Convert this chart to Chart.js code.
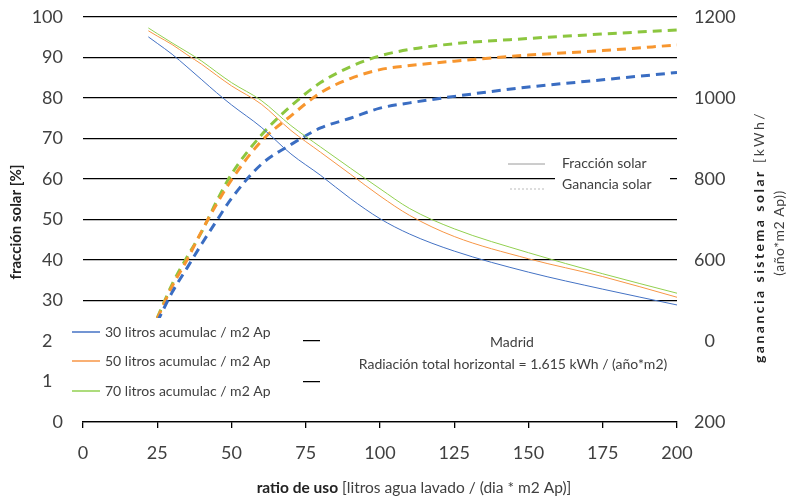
<!DOCTYPE html>
<html>
<head>
<meta charset="utf-8">
<script src="https://cdn.jsdelivr.net/npm/chart.js@4"></script>
<style>
    html, body { margin: 0; padding: 0; background: #fff; }
</style>
</head>
<body>
<canvas id="solar-chart" width="796" height="497"></canvas>
<script>
'use strict';

// data

const ratio = [22, 25, 30, 35, 40, 45, 50, 60, 70, 80, 90, 100, 110, 125, 150, 175, 200];

const fraccion30 = [95.1, 93.5, 90.8, 87.7, 84.5, 81.3, 78.3, 72.8, 66.2, 60.9, 55.2, 50.2, 46.4, 42.2, 37.0, 32.8, 28.9];
const fraccion50 = [96.6, 95.3, 93.2, 90.7, 88.3, 85.6, 83.0, 78.5, 72.0, 66.6, 61.2, 55.8, 51.0, 45.8, 40.3, 35.9, 30.8];
const fraccion70 = [97.3, 95.9, 93.6, 91.4, 89.1, 86.4, 83.8, 79.4, 73.2, 67.9, 62.7, 57.6, 52.7, 47.7, 41.8, 36.6, 31.8];

const ganancia30 = [null, 447, 520, 580, 640, 697, 752, 836, 885, 926, 950, 975, 988, 1004, 1027, 1045, 1063];
const ganancia50 = [null, 455, 535, 600, 672, 738, 798, 893, 956, 1013, 1048, 1070, 1080, 1091, 1106, 1117, 1131];
const ganancia70 = [null, 457, 540, 607, 670, 745, 812, 908, 980, 1038, 1077, 1104, 1120, 1134, 1147, 1158, 1168];

const seriesNames = ['30 litros acumulac / m2 Ap', '50 litros acumulac / m2 Ap', '70 litros acumulac / m2 Ap'];
const leftTickText = { 20: '2\u2007', 10: '1\u2007' };
const rightTickText = { 400: '\u20070' };

const BLUE = '#4472C4';
const ORANGE = '#F79646';
const GREEN = '#92D050';
const TEXT = '#404040';
const FONT = 'Lato, "Noto Sans", sans-serif';

// turn the arrays into {x, y} points, skipping gaps

function toPoints(values) {
    return ratio
        .map((x, i) => ({ x: x, y: values[i] }))
        .filter(p => p.y !== null);
}

function solidSet(label, values, color) {
    return {
        label: label,
        data: toPoints(values),
        yAxisID: 'yL',
        borderColor: color,
        borderWidth: 1,
        pointRadius: 0,
        cubicInterpolationMode: 'monotone'
    };
}

function dashedSet(label, values, color) {
    return {
        label: label,
        data: toPoints(values),
        yAxisID: 'yR',
        borderColor: color,
        borderWidth: 3,
        borderDash: [9, 6],
        pointRadius: 0,
        cubicInterpolationMode: 'monotone'
    };
}

// white boxes, legends and notes drawn over the plot

const overlayPlugin = {
    id: 'overlays',
    afterDatasetsDraw(chart) {
        const ctx = chart.ctx;
        ctx.save();

        ctx.fillStyle = '#fff';
        ctx.fillRect(70, 318, 233, 84);
        ctx.fillRect(320, 325, 372, 76);
        ctx.fillRect(555, 150, 115, 42);

        // series legend
        const colors = [BLUE, ORANGE, GREEN];
        const rows = [332, 361, 391];
        ctx.font = '14px ' + FONT;
        ctx.textBaseline = 'middle';
        ctx.textAlign = 'left';
        rows.forEach((y, i) => {
            ctx.strokeStyle = colors[i];
            ctx.lineWidth = 1.5;
            ctx.beginPath();
            ctx.moveTo(72, y);
            ctx.lineTo(100, y);
            ctx.stroke();
            ctx.fillStyle = TEXT;
            ctx.fillText(seriesNames[i], 105, y);
        });

        // line style legend
        ctx.strokeStyle = '#9a9a9a';
        ctx.lineWidth = 1;
        ctx.beginPath();
        ctx.moveTo(508, 164);
        ctx.lineTo(545, 164);
        ctx.stroke();
        ctx.setLineDash([2, 2]);
        ctx.strokeStyle = '#bbbbbb';
        ctx.beginPath();
        ctx.moveTo(510, 189);
        ctx.lineTo(545, 189);
        ctx.stroke();
        ctx.setLineDash([]);
        ctx.fillStyle = TEXT;
        ctx.fillText('Fracción solar', 562, 163);
        ctx.fillText('Ganancia solar', 562, 184);

        // location note
        ctx.textAlign = 'center';
        ctx.fillText('Madrid', 512, 342);
        ctx.fillText('Radiación total horizontal = 1.615 kWh / (año*m2)', 513, 364);

        ctx.restore();
    },
    afterDraw(chart) {
        const ctx = chart.ctx;
        ctx.save();
        ctx.fillStyle = TEXT;
        ctx.textBaseline = 'middle';

        // left title
        ctx.save();
        ctx.translate(16, 222);
        ctx.rotate(-Math.PI / 2);
        ctx.textAlign = 'center';
        ctx.fillStyle = '#222';
        ctx.font = 'bold 15px ' + FONT;
        ctx.fillText('fracción solar [%]', 0, 0);
        ctx.restore();

        // bottom title, bold part + regular part
        ctx.font = 'bold 15.5px ' + FONT;
        const boldPart = 'ratio de uso';
        const regPart = ' [litros agua lavado / (dia * m2 Ap)]';
        const wBold = ctx.measureText(boldPart).width;
        ctx.font = '15.5px ' + FONT;
        const wReg = ctx.measureText(regPart).width;
        let x0 = 414 - (wBold + wReg) / 2;
        ctx.textAlign = 'left';
        ctx.font = 'bold 15.5px ' + FONT;
        ctx.fillStyle = '#222';
        ctx.fillText(boldPart, x0, 488);
        ctx.font = '15.5px ' + FONT;
        ctx.fillStyle = TEXT;
        ctx.fillText(regPart, x0 + wBold, 488);

        // right title, two rotated lines
        ctx.save();
        ctx.translate(759, 237);
        ctx.rotate(-Math.PI / 2);
        ctx.letterSpacing = '2.5px';
        ctx.font = 'bold 14px ' + FONT;
        const rBold = 'ganancia sistema solar';
        const rReg = ' [kWh/';
        const rwBold = ctx.measureText(rBold).width;
        ctx.font = '14px ' + FONT;
        const rwReg = ctx.measureText(rReg).width;
        const rx0 = -(rwBold + rwReg) / 2;
        ctx.textAlign = 'left';
        ctx.font = 'bold 14px ' + FONT;
        ctx.fillStyle = '#222';
        ctx.fillText(rBold, rx0, 0);
        ctx.font = '14px ' + FONT;
        ctx.fillStyle = TEXT;
        ctx.fillText(rReg, rx0 + rwBold, 0);
        ctx.letterSpacing = '0.5px';
        ctx.textAlign = 'center';
        ctx.fillText('(año*m2 Ap))', 4, 20);
        ctx.restore();

        ctx.restore();
    }
};

const solarChart = new Chart(document.getElementById('solar-chart'), {
    type: 'line',
    data: {
        datasets: [
            solidSet(seriesNames[0], fraccion30, BLUE),
            solidSet(seriesNames[1], fraccion50, ORANGE),
            solidSet(seriesNames[2], fraccion70, GREEN),
            dashedSet(seriesNames[0], ganancia30, '#3A6DC2'),
            dashedSet(seriesNames[1], ganancia50, '#F7962F'),
            dashedSet(seriesNames[2], ganancia70, '#8CC63F')
        ]
    },
    options: {
        responsive: false,
        animation: false,
        devicePixelRatio: 1,
        layout: {
            padding: { top: 17, left: 0, right: 0, bottom: 0 }
        },
        plugins: {
            legend: { display: false },
            tooltip: { enabled: false }
        },
        scales: {
            x: {
                type: 'linear',
                min: 0,
                max: 200,
                ticks: {
                    stepSize: 25,
                    padding: 14,
                    color: TEXT,
                    font: { family: FONT, size: 18 },
                    maxRotation: 0
                },
                grid: {
                    drawOnChartArea: false,
                    drawTicks: true,
                    tickLength: 6,
                    color: '#000',
                    lineWidth: 1.3
                },
                border: { display: true, color: '#000', width: 1.3 },
                afterFit: scale => { scale.height = 75 }
            },
            yL: {
                position: 'left',
                min: 0,
                max: 100,
                ticks: {
                    stepSize: 10,
                    padding: 0,
                    color: TEXT,
                    font: { family: FONT, size: 18 },
                    callback: value => leftTickText[value] || String(value)
                },
                grid: {
                    color: '#000',
                    lineWidth: 1.3,
                    drawTicks: true,
                    tickLength: 20,
                    tickColor: 'rgba(0,0,0,0)'
                },
                border: { display: false },
                afterFit: scale => { scale.width = 83 }
            },
            yR: {
                position: 'right',
                min: 200,
                max: 1200,
                ticks: {
                    stepSize: 200,
                    padding: 0,
                    color: TEXT,
                    font: { family: FONT, size: 18 },
                    callback: value => rightTickText[value] || String(value)
                },
                grid: {
                    drawOnChartArea: false,
                    drawTicks: true,
                    tickLength: 17,
                    tickColor: 'rgba(0,0,0,0)'
                },
                border: { display: false },
                afterFit: scale => { scale.width = 119 }
            }
        }
    },
    plugins: [overlayPlugin]
});
</script>
</body>
</html>
